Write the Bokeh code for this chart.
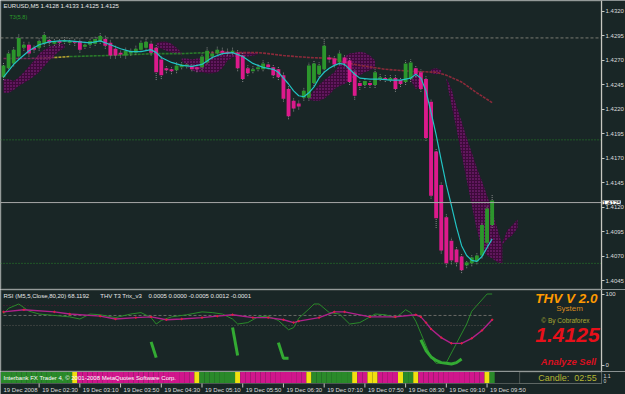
from bokeh.plotting import figure
from bokeh.layouts import column
from bokeh.models import (Range1d, FixedTicker, Label, BoxAnnotation,
                          ColumnDataSource, PrintfTickFormatter)
from bokeh.embed import file_html
from bokeh.resources import INLINE
from bokeh.core.properties import value

# ---------------- data (EURUSD M5, 19 Dec 2008, bars 01:55 .. 09:55) ----------------
bars = list(range(97))
opens = [1.4253,1.4262,1.4267,1.4274,1.4283,1.4286,1.4283,1.4283,1.4287,1.4291,
         1.4287,1.4290,1.4289,1.4288,1.4290,1.4290,1.4284,1.4286,1.4287,1.4290,
         1.4292,1.4288,1.4282,1.4278,1.4275,1.4277,1.4278,1.4281,1.4283,1.4287,
         1.4283,1.4271,1.4262,1.4261,1.4260,1.4263,1.4264,1.4264,1.4263,1.4263,
         1.4268,1.4274,1.4277,1.4280,1.4279,1.4278,1.4278,1.4275,1.4262,1.4259,
         1.4261,1.4261,1.4266,1.4263,1.4261,1.4255,1.4241,1.4229,1.4226,1.4232,
         1.4232,1.4247,1.4256,1.4261,1.4273,1.4272,1.4268,1.4273,1.4270,1.4258,
         1.4247,1.4245,1.4247,1.4245,1.4251,1.4252,1.4250,1.4252,1.4250,1.4248,
         1.4251,1.4262,1.4258,1.4251,1.4228,1.4177,1.4143,1.4110,1.4086,1.4077,
         1.4070,1.4061,1.4063,1.4065,1.4071,1.4084,1.4102]
highs = [1.4268,1.4280,1.4284,1.4297,1.4289,1.4289,1.4286,1.4293,1.4299,1.4295,
         1.4292,1.4292,1.4294,1.4293,1.4293,1.4293,1.4289,1.4293,1.4295,1.4298,
         1.4296,1.4291,1.4285,1.4280,1.4283,1.4282,1.4285,1.4291,1.4293,1.4290,
         1.4286,1.4274,1.4265,1.4263,1.4268,1.4269,1.4268,1.4266,1.4265,1.4277,
         1.4284,1.4280,1.4284,1.4283,1.4282,1.4283,1.4281,1.4278,1.4265,1.4264,
         1.4266,1.4270,1.4269,1.4266,1.4264,1.4258,1.4244,1.4232,1.4229,1.4242,
         1.4268,1.4270,1.4268,1.4293,1.4276,1.4275,1.4280,1.4276,1.4273,1.4261,
         1.4250,1.4252,1.4250,1.4261,1.4256,1.4255,1.4255,1.4255,1.4253,1.4270,
         1.4271,1.4265,1.4261,1.4254,1.4231,1.4180,1.4146,1.4113,1.4089,1.4080,
         1.4073,1.4066,1.4072,1.4074,1.4105,1.4122,1.4133]
lows = [1.4250,1.4259,1.4264,1.4271,1.4280,1.4274,1.4278,1.4280,1.4284,1.4285,
        1.4285,1.4285,1.4287,1.4286,1.4285,1.4278,1.4282,1.4283,1.4285,1.4287,
        1.4282,1.4272,1.4272,1.4273,1.4272,1.4275,1.4276,1.4279,1.4281,1.4275,
        1.4250,1.4251,1.4257,1.4256,1.4257,1.4261,1.4262,1.4259,1.4258,1.4260,
        1.4266,1.4272,1.4275,1.4276,1.4275,1.4276,1.4259,1.4248,1.4254,1.4257,
        1.4259,1.4259,1.4261,1.4252,1.4250,1.4228,1.4210,1.4218,1.4220,1.4229,
        1.4229,1.4244,1.4253,1.4258,1.4268,1.4263,1.4265,1.4264,1.4245,1.4230,
        1.4240,1.4242,1.4242,1.4242,1.4249,1.4248,1.4248,1.4238,1.4243,1.4245,
        1.4248,1.4253,1.4238,1.4188,1.4129,1.4099,1.4073,1.4059,1.4062,1.4060,
        1.4053,1.4058,1.4060,1.4062,1.4068,1.4081,1.4099]
closes = [1.4265,1.4277,1.4281,1.4293,1.4286,1.4277,1.4281,1.4290,1.4296,1.4288,
          1.4289,1.4288,1.4291,1.4290,1.4288,1.4281,1.4286,1.4290,1.4292,1.4295,
          1.4285,1.4275,1.4275,1.4276,1.4280,1.4280,1.4282,1.4288,1.4289,1.4278,
          1.4258,1.4255,1.4260,1.4259,1.4265,1.4266,1.4266,1.4261,1.4261,1.4274,
          1.4280,1.4277,1.4281,1.4278,1.4277,1.4280,1.4262,1.4251,1.4257,1.4261,
          1.4263,1.4267,1.4263,1.4255,1.4253,1.4231,1.4213,1.4221,1.4223,1.4239,
          1.4265,1.4267,1.4265,1.4285,1.4271,1.4266,1.4277,1.4267,1.4248,1.4234,
          1.4244,1.4249,1.4245,1.4258,1.4253,1.4250,1.4252,1.4241,1.4246,1.4267,
          1.4268,1.4256,1.4241,1.4191,1.4132,1.4109,1.4076,1.4063,1.4066,1.4064,
          1.4056,1.4064,1.4069,1.4071,1.4102,1.4119,1.4127]

# T3 smoothing line (cyan)
t3_x = [0,2,3,5,7,9,11,13,15,17,19,21,23,25,27,29,30,31,33,35,37,39,41,43,45,47,49,51,53,54,
        55,56,57,58,59,60,61,62,63,64,65,66,67,68,69,70,72,74,76,78,80,81,82,83,84,85,86,87,88,89,
        90,91,92,93,94,95,96]
t3_y = [1.4253,1.4266,1.4271,1.4280,1.4286,1.4289,1.4290,1.4290,1.4289,1.4288,
        1.4290,1.4286,1.4282,1.4279,1.4279,1.4281,1.4278,1.4273,1.4268,1.4265,
        1.4264,1.4266,1.4273,1.4277,1.4278,1.4274,1.4267,1.4263,1.4261,1.4258,
        1.4252,1.4246,1.4239,1.4234,1.4233,1.4237,1.4243,1.4252,1.4258,1.4262,
        1.4265,1.4267,1.4266,1.4261,1.4256,1.4252,1.4251,1.4251,1.4250,1.4250,
        1.4252,1.4256,1.4252,1.4239,1.4217,1.4194,1.4168,1.4143,1.4122,1.4100,
        1.4081,1.4071,1.4066,1.4065,1.4070,1.4079,1.4088]

# slow moving average (multi-coloured, dotted)
ma_x = [0,5,10,13,20,25,30,35,40,45,50,52,55,60,65,67,70,75,80,85,87,90,93,96]
ma_y = [1.4272,1.4272,1.4273,1.4274,1.4275,1.4276,1.4277,1.4277,1.4278,1.4278,1.4278,1.4277,
        1.4275,1.4273,1.4272,1.4268,1.4265,1.4261,1.4259,1.4258,1.4255,1.4248,1.4237,1.4227]
ma_color_from = [0, 10, 13, 40]
ma_colors = ["#7a2a5a", "#b0a030", "#2a7a2a", "#8b2a3a"]

# purple cloud segments (upper / lower edges)
cloud_x = [
    [0,1,2,3,4,5,6,7,8,9,10,11,12],
    [30,31,32,33,34,35],
    [35,36,37,38,39,40,41,42,43,44,45,46,47,48,49,50],
    [60,61,62,63,64,65,66,67,68,69,70,71,72,73],
    [80,81,82],
    [84,85,86],
    [87,88,89,90,91,92,93,94,95,96,97,98],
    [98,99,100,101],
]
cloud_top = [
    [1.4251,1.4251,1.4249,1.4253,1.4258,1.4264,1.4270,1.4277,1.4281,1.4284,1.4286,1.4287,1.4286],
    [1.4288,1.4289,1.4289,1.4287,1.4283,1.4278],
    [1.4272,1.4272,1.4271,1.4272,1.4272,1.4274,1.4274,1.4275,1.4276,1.4278,1.4279,1.4279,1.4279,1.4279,1.4278,1.4277],
    [1.4234,1.4239,1.4245,1.4250,1.4254,1.4258,1.4266,1.4274,1.4277,1.4278,1.4279,1.4278,1.4275,1.4270],
    [1.4255,1.4258,1.4254],
    [1.4261,1.4262,1.4260],
    [1.4252,1.4241,1.4223,1.4208,1.4191,1.4176,1.4160,1.4147,1.4132,1.4117,1.4099,1.4081],
    [1.4084,1.4097,1.4102,1.4108],
]
cloud_bot = [
    [1.4237,1.4237,1.4240,1.4244,1.4247,1.4250,1.4254,1.4258,1.4264,1.4270,1.4275,1.4280,1.4283],
    [1.4284,1.4282,1.4280,1.4278,1.4277,1.4275],
    [1.4270,1.4264,1.4260,1.4258,1.4258,1.4257,1.4257,1.4258,1.4262,1.4270,1.4273,1.4274,1.4274,1.4274,1.4275,1.4276],
    [1.4230,1.4229,1.4229,1.4231,1.4235,1.4241,1.4244,1.4246,1.4250,1.4253,1.4255,1.4258,1.4260,1.4262],
    [1.4250,1.4241,1.4244],
    [1.4257,1.4256,1.4257],
    [1.4250,1.4225,1.4200,1.4174,1.4148,1.4122,1.4097,1.4078,1.4071,1.4068,1.4064,1.4063],
    [1.4082,1.4088,1.4092,1.4099],
]

price_ticks = [1.4045,1.4070,1.4095,1.4120,1.4145,1.4170,1.4195,1.4220,1.4245,1.4270,1.4295,1.4320]
day_high_line = 1.4293
green_levels = [1.4189, 1.4063]
bid_price = 1.4125

# sub window: RSI / THV T3 Trix
rsi_x = [0,1,3,5,7,10,13,15,17,19,22,25,27,29,30,31,33,36,39,41,43,45,46,48,50,52,54,56,57,58,
         60,61,62,64,66,68,70,71,73,75,77,78,79,80,81,82,83,84,85,87,89,91,92,95,96]
rsi_v = [72,80,86,76,72,70,68,65,72,71,67,72,74,67,58,63,68,71,75,74,72,65,58,60,68,69,63,50,53,66,
         79,86,86,74,72,58,60,64,72,71,67,72,78,74,62,45,28,11,3,4,31,58,76,100,100]
sig_x = [0,4,10,13,19,22,26,29,32,35,39,42,45,49,52,55,57,58,62,65,67,72,77,81,82,83,84,86,88,90,92,94,96]
sig_v = [75,78,75,72,69,65,67,68,64,65,67,69,71,67,67,64,60,62,67,75,75,68,68,71,68,60,51,39,31,31,38,49,64]
trix_x = [[29,30],[45,46],[54,55,56],[82,83,84,85,86,87,88,89,90]]
trix_v = [[33,11],[53,14],[32,10,10],[36,21,12,7,4,3,2,4,9]]
sub_levels = [84, 70, 56]

# signal strip (per bar): G=green, P=pink, Y=yellow
strip_runs = [("G",14),("Y",1),("P",23),("Y",1),("G",7),("Y",1),("P",13),("Y",1),("G",8),("Y",1),
              ("P",2),("Y",2),("P",4),("Y",1),("G",2),("Y",1),("P",13),("Y",1),("G",1)]

time_labels = ["19 Dec 2008","19 Dec 02:30","19 Dec 03:10","19 Dec 03:50","19 Dec 04:30","19 Dec 05:10",
               "19 Dec 05:50","19 Dec 06:30","19 Dec 07:10","19 Dec 07:50","19 Dec 08:30","19 Dec 09:10",
               "19 Dec 09:50"]
time_label_bars = [7,15,23,31,39,47,55,63,71,79,87,95]

# ---------------- style ----------------
BG = "#192626"
EDGE = "#c8c8c0"
GREEN = "#2c962c"
PINK = "#dc1a8c"
FONT = "Liberation Sans"
SMALL = "6px"
X0 = -0.59          # left edge of the chart (bar units)
XA = 117.5          # price-scale position (chart right edge)
XR = 122.2          # right edge of the window

def base(height, yr):
    return figure(width=625, height=height, x_range=Range1d(X0, XR), y_range=yr,
                  output_backend="svg", toolbar_location=None,
                  x_axis_location=None, y_axis_location="right",
                  min_border_left=0, min_border_right=0, min_border_top=0, min_border_bottom=0,
                  background_fill_color=BG, border_fill_color=BG, outline_line_color=None)

def style_axis(ax, ticks):
    ax.fixed_location = XA
    ax.ticker = FixedTicker(ticks=ticks)
    ax.axis_line_color = EDGE
    ax.major_tick_line_color = EDGE
    ax.major_tick_out = 3
    ax.major_tick_in = 0
    ax.minor_tick_out = 0
    ax.minor_tick_in = 0
    ax.major_label_standoff = 1
    ax.major_label_text_font = FONT
    ax.major_label_text_font_size = SMALL
    ax.major_label_text_color = "#dcdcdc"

def hline(p, y, color, dash, width=1):
    p.segment(x0=[X0], y0=[y], x1=[XA], y1=[y], line_color=color, line_dash=dash, line_width=width)

# ---------------- main window ----------------
YLO, YHI = 1.40363, 1.43312
p1 = base(289, Range1d(YLO, YHI))
p1.grid.visible = False
style_axis(p1.yaxis[0], price_ticks)
p1.yaxis[0].formatter = PrintfTickFormatter(format="%.4f")

hline(p1, day_high_line, "#7a7a72", "3 2")
for lv in green_levels:
    hline(p1, lv, "#2a8a2a", "1 2")

for cx, ct, cb in zip(cloud_x, cloud_top, cloud_bot):
    p1.varea(x=cx, y1=cb, y2=ct, fill_color="#3e0a3a", fill_alpha=1,
             hatch_pattern="dot", hatch_color="#9a2e9a", hatch_alpha=0.9, hatch_scale=3, hatch_weight=0.7)

for i, start in enumerate(ma_color_from):
    end = ma_color_from[i + 1] if i + 1 < len(ma_color_from) else bars[-1]
    xs = [x for x in ma_x if start <= x <= end]
    ys = [y for x, y in zip(ma_x, ma_y) if start <= x <= end]
    p1.line(xs, ys, line_color=ma_colors[i], line_width=1.6, line_dash="3 1")

p1.segment(x0=bars, y0=lows, x1=bars, y1=highs, line_color="#8c8c8c", line_width=1, line_dash="1 1")
up = [i for i in bars if closes[i] >= opens[i]]
dn = [i for i in bars if closes[i] < opens[i]]
for idx, col in ((up, GREEN), (dn, PINK)):
    src = ColumnDataSource(dict(x=[bars[i] for i in idx],
                                top=[max(opens[i], closes[i]) for i in idx],
                                bottom=[min(opens[i], closes[i]) for i in idx]))
    p1.vbar(x="x", top="top", bottom="bottom", width=0.76, source=src,
            fill_color=col, line_color=None)

p1.line(t3_x, t3_y, line_color="#22c4c4", line_width=1.2)
hline(p1, bid_price, "#a8a8a8", "solid")

# panel frame
p1.add_layout(BoxAnnotation(left=X0, right=XA, bottom=YLO, top=YHI, fill_alpha=0,
                            line_color=EDGE, line_width=2))

p1.add_layout(Label(x=X0, y=1.43251, x_offset=3, text="EURUSD,M5  1.4128 1.4133 1.4125 1.4125",
                    text_font=FONT, text_font_size=SMALL, text_color="#e6e6e6", text_baseline="middle"))
p1.add_layout(Label(x=X0, y=1.43139, x_offset=9, text="T3(5,8)",
                    text_font=FONT, text_font_size="5.5px", text_color="#2a9a2a", text_baseline="middle"))
p1.add_layout(Label(x=XA, y=bid_price, x_offset=1, text="1.4125",
                    text_font=FONT, text_font_size=SMALL, text_color="#000000",
                    background_fill_color="#ffffff", text_baseline="middle"))

# ---------------- sub window ----------------
VLO, VHI = -8.4, 106.3
p2 = base(82, Range1d(VLO, VHI))
p2.grid.visible = False
style_axis(p2.yaxis[0], [0, 100])

lv_styles = [("#5a1f3a", "1 2"), ("#6a6a66", "3 2"), ("#5a5a56", "1 2")]
for lv, (c, d) in zip(sub_levels, lv_styles):
    p2.segment(x0=[bars[0]], y0=[lv], x1=[bars[-1]], y1=[lv], line_color=c, line_dash=d, line_width=1)

p2.line(rsi_x, rsi_v, line_color="#2a8a2a", line_width=1)
p2.line(sig_x, sig_v, line_color="#b0208a", line_width=1.4)
p2.scatter(sig_x, sig_v, size=1.5, color="#e02040")
p2.multi_line(trix_x, trix_v, line_color="#33aa33", line_width=3)

p2.add_layout(BoxAnnotation(left=X0, right=XA, bottom=VLO, top=VHI, fill_alpha=0,
                            line_color=EDGE, line_width=2))

p2.add_layout(Label(x=X0, y=97.5, x_offset=3, text="RSI (M5,5,Close,80,20) 68.1192",
                    text_font=FONT, text_font_size=SMALL, text_color="#e6e6e6", text_baseline="middle"))
p2.add_layout(Label(x=19.0, y=97.5, text="THV  T3 Trix_v3",
                    text_font=FONT, text_font_size=SMALL, text_color="#e6e6e6", text_baseline="middle"))
p2.add_layout(Label(x=28.5, y=97.5, text="0.0005 0.0000 -0.0005 0.0012 -0.0001",
                    text_font=FONT, text_font_size=SMALL, text_color="#e6e6e6", text_baseline="middle"))

p2.add_layout(Label(x=110.6, y=93.5, text="THV V 2.0", text_font="Liberation Sans", text_font_size="13.5px",
                    text_font_style="bold italic", text_color="#ff9a00", text_align="center", text_baseline="middle"))
p2.add_layout(Label(x=111.2, y=80.4, text="System", text_font="Liberation Sans", text_font_size="8px",
                    text_color="#d88a20", text_align="center", text_baseline="middle"))
p2.add_layout(Label(x=110.4, y=63.6, text="\u00a9 By Cobraforex", text_font="Liberation Sans", text_font_size="6.5px",
                    text_color="#a8a832", text_align="center", text_baseline="middle"))
p2.add_layout(Label(x=110.8, y=42.7, text="1.4125", text_font="Liberation Sans", text_font_size="21px",
                    text_font_style="bold italic", text_color="#e8101a", text_align="center", text_baseline="middle"))
p2.add_layout(Label(x=111.0, y=5.6, text="Analyze Sell", text_font="Liberation Sans", text_font_size="9.5px",
                    text_font_style="bold italic", text_color="#d81020", text_align="center", text_baseline="middle"))

# ---------------- strip + time scale ----------------
p3 = base(23, Range1d(0, 23))
p3.yaxis.visible = False
p3.grid.visible = False

codes = []
for code, n in strip_runs:
    codes += [code] * n
cmap = {"G": "#2a8a2a", "P": "#d0168c", "Y": "#f0e010"}
p3.quad(left=[b - 0.5 for b in bars], right=[b + 0.5 for b in bars], bottom=11.5, top=22.5,
        fill_color=[cmap[c] for c in codes], line_color=None)
p3.add_layout(BoxAnnotation(left=X0, right=XA, bottom=11, top=23.5, fill_alpha=0,
                            line_color=EDGE, line_width=1))

p3.add_layout(Label(x=X0, y=17, x_offset=3, text="Interbank FX Trader 4, \u00a9 2001-2008 MetaQuotes Software Corp.",
                    text_font=FONT, text_font_size=SMALL, text_color="#ffffff", text_baseline="middle"))

p3.add_layout(BoxAnnotation(left=101.4, right=XA, bottom=11, top=22.6, fill_color=BG, fill_alpha=1,
                            line_color=EDGE, line_width=1))
p3.add_layout(Label(x=110.8, y=16.8, text="Candle:\u00a0 02:55", text_font="Liberation Sans", text_font_size="9px",
                    text_color="#b4b432", text_align="center", text_baseline="middle"))
p3.add_layout(Label(x=XA, y=19, x_offset=2, text="1.1", text_font=FONT, text_font_size="5px",
                    text_color="#dcdcdc", text_baseline="middle"))
p3.add_layout(Label(x=XA, y=14, x_offset=2, text="0", text_font=FONT, text_font_size="5px",
                    text_color="#dcdcdc", text_baseline="middle"))

p3.segment(x0=time_label_bars, y0=11, x1=time_label_bars, y1=7, line_color=EDGE, line_width=1)
tsrc = ColumnDataSource(dict(x=[X0] + time_label_bars, text=time_labels))
p3.text(x="x", y=5, text="text", source=tsrc, x_offset=3, text_font=value(FONT), text_font_size="6px",
        text_color="#dcdcdc", text_align="left", text_baseline="middle")

layout = column(p1, p2, p3, spacing=0)
open("out.html", "w").write(file_html(layout, INLINE))
